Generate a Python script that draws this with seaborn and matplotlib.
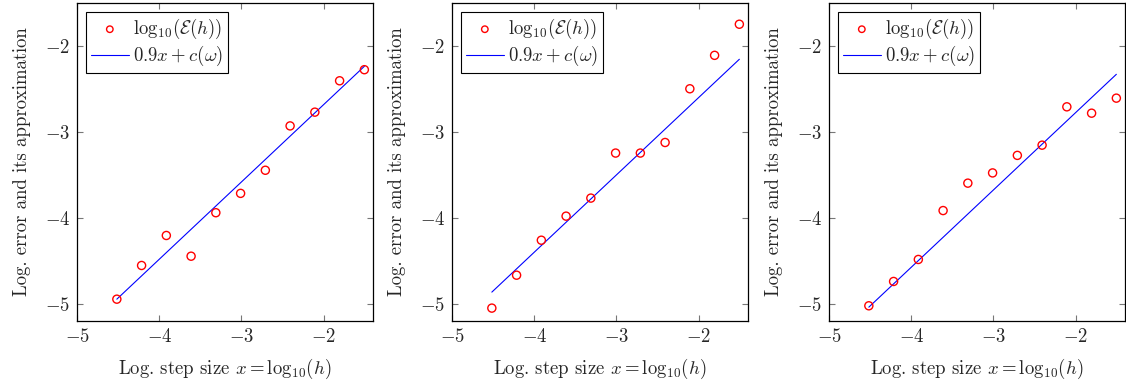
import numpy as np
import pandas as pd
import matplotlib
matplotlib.use("Agg")
import matplotlib.pyplot as plt
import seaborn as sns

# Data
k = np.arange(-15, -4)  # h = 2^k
x_vals = k * np.log10(2)
err1 = [-4.946, -4.554, -4.205, -4.446, -3.940, -3.715, -3.446, -2.930, -2.770, -2.405, -2.276]
err2 = [-5.050, -4.667, -4.260, -3.980, -3.770, -3.246, -3.246, -3.123, -2.498, -2.109, -1.747]
err3 = [-5.023, -4.740, -4.484, -3.915, -3.596, -3.477, -3.273, -3.154, -2.708, -2.782, -2.607]
slope = 0.9
intercepts = [-0.882, -0.800, -0.975]
xticks = [-5, -4, -3, -2]
yticks = [-5, -4, -3, -2]

sns.set_theme(style="ticks")
plt.rcParams['font.family'] = ['cmr10', 'DejaVu Serif']
plt.rcParams['mathtext.fontset'] = 'cm'
plt.rcParams['axes.formatter.use_mathtext'] = True
plt.rcParams['axes.unicode_minus'] = True

fig = plt.figure(figsize=(11.26, 3.81), dpi=100)
W, H = 1126, 381
lefts = [77, 452, 829]
width = 296
top, bottom = 3, 321
fs = 13.5

for i, (err, c) in enumerate(zip([err1, err2, err3], intercepts)):
    ax = fig.add_axes([lefts[i] / W, 1 - bottom / H, width / W, (bottom - top) / H])
    df = pd.DataFrame({"x": x_vals, "err": err, "fit": slope * x_vals + c})
    sns.scatterplot(data=df, x="x", y="err", ax=ax, marker="o", s=34,
                    facecolors="none", edgecolor="red", linewidth=1.0,
                    label=r"$\log_{10}\!(\mathcal{E}(h))$", zorder=3)
    sns.lineplot(data=df, x="x", y="fit", ax=ax, color="blue", linewidth=0.8,
                 label=r"$0.9x + c(\omega)$", zorder=2)
    ax.set_xlim(-5, -1.4)
    ax.set_ylim(-5.2, -1.5)
    ax.set_xticks(xticks)
    ax.set_yticks(yticks)
    ax.tick_params(direction="in", length=4, width=0.8, color="#777777",
                   top=True, right=True, labelsize=fs, pad=5)
    for s in ax.spines.values():
        s.set_color("black")
        s.set_linewidth(0.9)
    ax.set_xlabel(r"Log. step size $x = \log_{10}\!(h)$", fontsize=fs, labelpad=8)
    ax.set_ylabel("Log. error and its approximation", fontsize=fs, labelpad=10)
    leg = ax.legend(loc="upper left", fontsize=fs, frameon=True, fancybox=False,
                    edgecolor="black", framealpha=1, borderpad=0.25,
                    handlelength=2.0, handletextpad=0.25, labelspacing=0.15,
                    borderaxespad=0.5, markerscale=0.8)
    leg.get_frame().set_linewidth(0.8)

fig.savefig("out.png", dpi=100)
